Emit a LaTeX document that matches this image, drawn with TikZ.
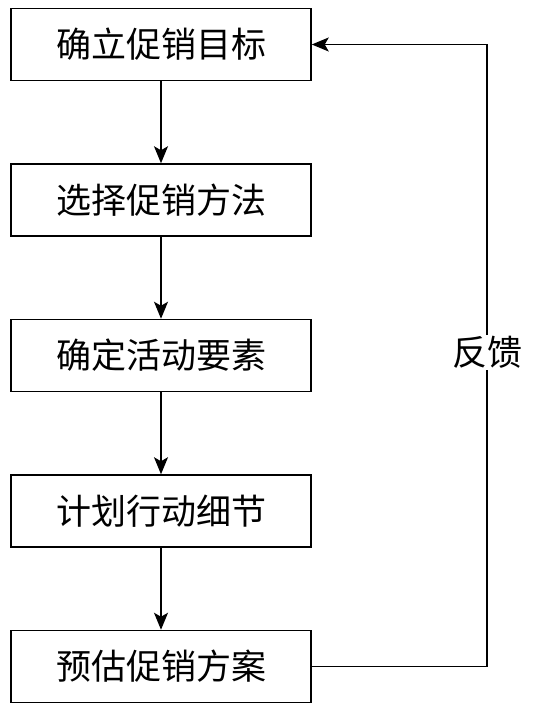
\documentclass[tikz,border=0pt]{standalone}
\usepackage{fontspec}
\newfontfamily\cjk{Noto Sans CJK SC}
\usetikzlibrary{positioning,arrows.meta}
\tikzset{
  stepbox/.style={draw, line width=1.5pt, minimum width=300pt, minimum height=72pt, inner sep=0pt, font=\cjk\fontsize{35}{40}\selectfont},
  flow/.style={-{Stealth[length=17pt,width=14pt,inset=4pt]}, line width=1.5pt},
  fblabel/.style={inner sep=1pt, font=\cjk\fontsize{35}{40}\selectfont},
}
\begin{document}
\begin{tikzpicture}[node distance=82pt]
      \useasboundingbox (0,0) rectangle (533pt,-708pt);
      % Steps of the plan
      \node[stepbox] (goal) at (161pt,-44.5pt) {确立促销目标};
      \node[stepbox, below=of goal] (method) {选择促销方法};
      \node[stepbox, below=of method] (elements) {确定活动要素};
      \node[stepbox, below=of elements] (details) {计划行动细节};
      \node[stepbox, below=of details] (estimate) {预估促销方案};

      % Arrows between steps
      \foreach \a/\b in {goal/method, method/elements, elements/details, details/estimate}
        \draw[flow] (\a) -- (\b);

      % Feedback loop
      \node[fblabel] (feedback) at (487pt,-352.5pt) {反馈};
      \draw[line width=1.5pt] (estimate.east) -| (feedback.south);
      \draw[flow] (feedback.north) |- (goal.east);
    \end{tikzpicture}
\end{document}
